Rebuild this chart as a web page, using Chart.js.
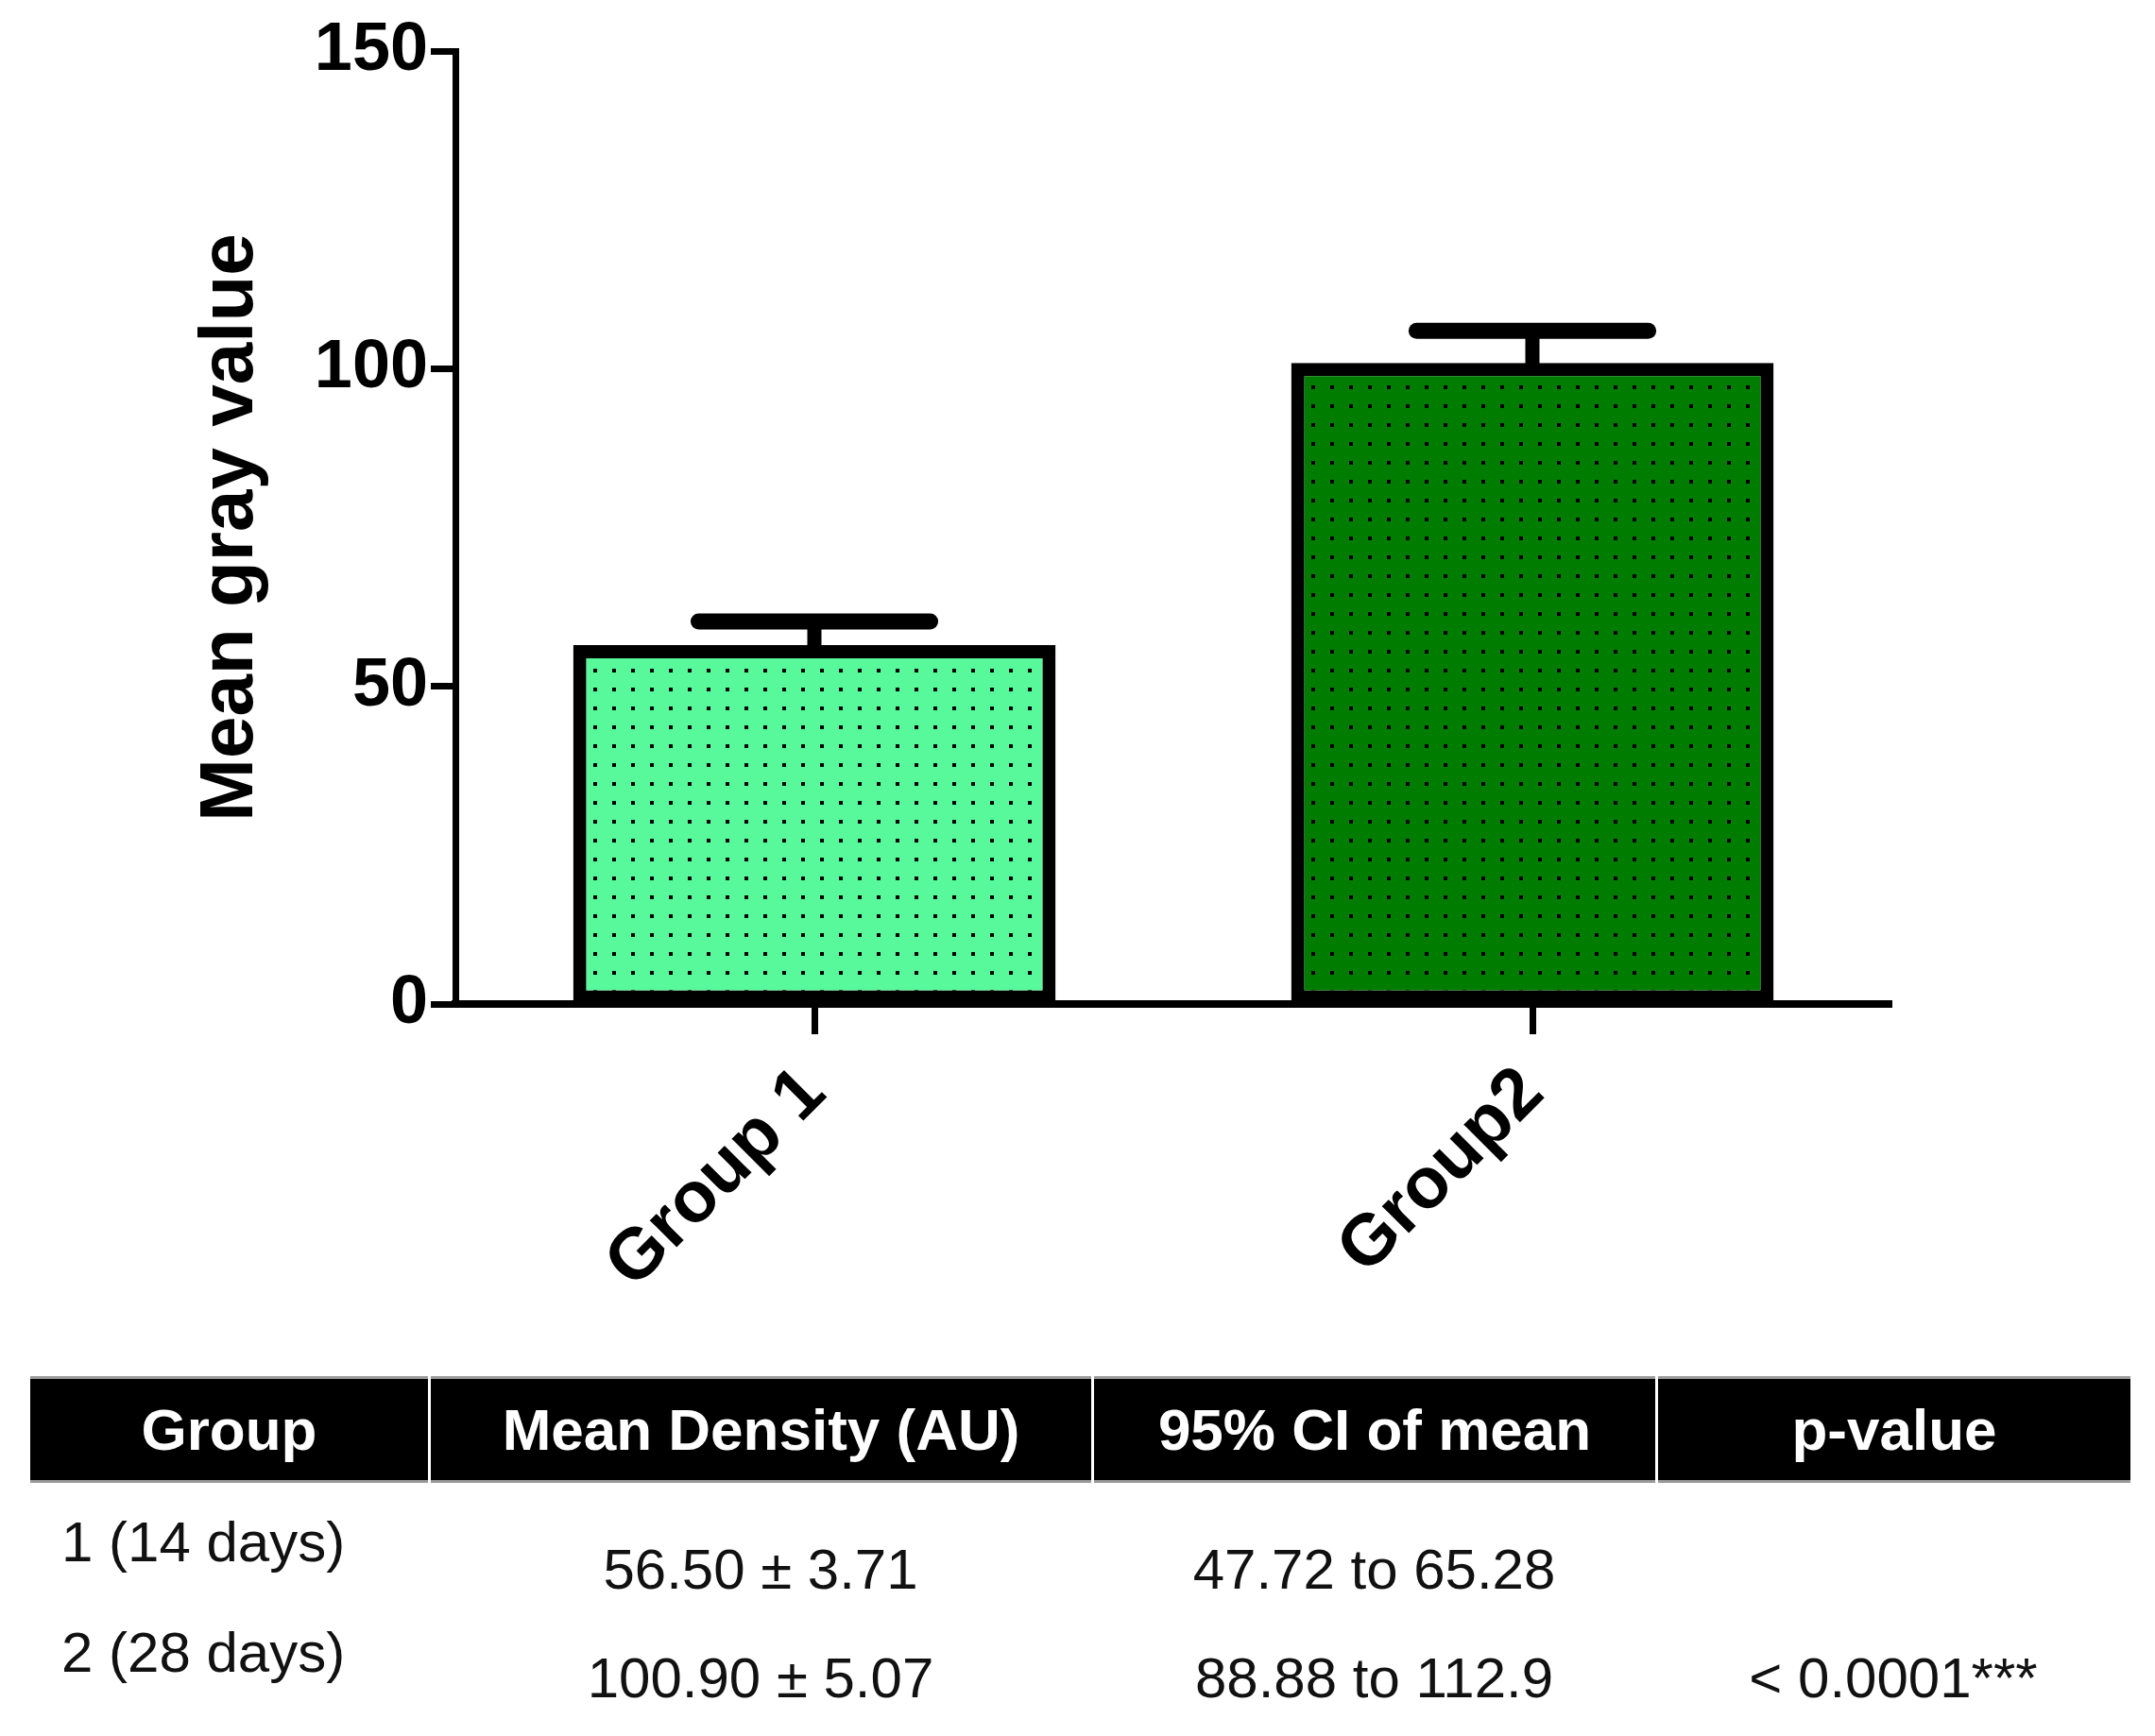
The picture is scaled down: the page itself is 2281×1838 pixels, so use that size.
<!DOCTYPE html>
<html>
<head>
<meta charset="utf-8">
<script src="https://cdn.jsdelivr.net/npm/chart.js@4"></script>
<style>
  body { margin: 0; background: #fff; font-family: "Liberation Sans", Arial, sans-serif; }
  #wrap { position: relative; width: 2281px; height: 1838px; overflow: hidden; }
  canvas { position: absolute; left: 0; top: 0; }
  .cell { position: absolute; white-space: nowrap; line-height: 1; }
  .head { background: #000; color: #fff; font-weight: bold; font-size: 62px;
          display: flex; align-items: center; justify-content: center; }
  .body { color: #111; font-size: 60px; }
</style>
</head>
<body>
<div id="wrap">
  <canvas id="barChart" width="2281" height="1440"></canvas>
  <div id="table"></div>
</div>
<script>
const groups = ["Group 1", "Group2"];
const meanValues = [56.5, 100.9];
const semValues = [3.71, 5.07];
const yTicks = [0, 50, 100, 150];
const barColors = ["#58f99a", "#007c00"];

const tableHeaders = ["Group", "Mean Density (AU)", "95% CI of mean", "p-value"];
const rowLabels = ["1 (14 days)", "2 (28 days)"];
const densityText = ["56.50 ± 3.71", "100.90 ± 5.07"];
const ciText = ["47.72 to 65.28", "88.88 to 112.9"];
const pValueText = ["", "< 0.0001***"];

const canvas = document.getElementById("barChart");
const ctx = canvas.getContext("2d");

// fill colour with a fine grid of black dots
function dotted(fill) {
  const c = document.createElement("canvas");
  c.width = 20;
  c.height = 20;
  const g = c.getContext("2d");
  g.fillStyle = fill;
  g.fillRect(0, 0, 20, 20);
  g.fillStyle = "#000";
  g.fillRect(8, 8, 4, 4);
  return ctx.createPattern(c, "repeat");
}

const errorBars = {
  id: "errorBars",
  afterDatasetsDraw(chart) {
    const c = chart.ctx;
    const y = chart.scales.y;
    const meta = chart.getDatasetMeta(0);
    c.save();
    c.strokeStyle = "#000";
    meta.data.forEach((bar, i) => {
      const top = y.getPixelForValue(meanValues[i] + semValues[i]);
      const half = bar.width * 0.24;
      c.lineWidth = 15;
      c.lineCap = "butt";
      c.beginPath();
      c.moveTo(bar.x, bar.y + 8);
      c.lineTo(bar.x, top);
      c.stroke();
      c.lineWidth = 17;
      c.lineCap = "round";
      c.beginPath();
      c.moveTo(bar.x - half, top);
      c.lineTo(bar.x + half, top);
      c.stroke();
    });
    c.restore();
  }
};

const font = "'Liberation Sans', Arial, sans-serif";

new Chart(canvas, {
  type: "bar",
  data: {
    labels: groups,
    datasets: [{
      data: meanValues,
      backgroundColor: barColors.map(dotted),
      borderColor: "#000",
      borderWidth: 14,
      borderSkipped: false,
      categoryPercentage: 1,
      barPercentage: 0.672,
    }],
  },
  options: {
    responsive: false,
    devicePixelRatio: 1,
    animation: false,
    layout: { padding: { top: 54, right: 279, left: 0, bottom: 0 } },
    plugins: { legend: { display: false }, tooltip: { enabled: false } },
    scales: {
      x: {
        grid: { offset: false, drawOnChartArea: false, tickLength: 32, tickWidth: 7, tickColor: "#000" },
        border: { display: true, color: "#000", width: 8 },
        ticks: { color: "#000", font: { family: font, size: 76, weight: "bold" }, minRotation: 45, maxRotation: 45, padding: 18 },
        afterFit: (s) => { s.height = 1440 - 1063; },
      },
      y: {
        min: 0,
        max: 150,
        afterBuildTicks: (s) => { s.ticks = yTicks.map((v) => ({ value: v })); },
        grid: { drawOnChartArea: false, tickLength: 26, tickWidth: 7, tickColor: "#000" },
        border: { display: true, color: "#000", width: 7 },
        ticks: { color: "#000", font: { family: font, size: 72, weight: "bold" }, padding: 3 },
        title: { display: true, text: "Mean gray value", color: "#000", font: { family: font, size: 80, weight: "bold" }, padding: { top: 197, bottom: 0 } },
        afterFit: (s) => { s.width = 482; },
      },
    },
  },
  plugins: [errorBars],
});

// summary table under the chart
const table = document.getElementById("table");
const colEdges = [32, 454, 1156, 1753, 2255];
function addCell(cls, text, style) {
  const d = document.createElement("div");
  d.className = "cell " + cls;
  d.textContent = text;
  Object.assign(d.style, style);
  table.appendChild(d);
}
tableHeaders.forEach((h, i) => {
  const left = colEdges[i] + (i ? 2 : 0);
  addCell("head", h, {
    left: left + "px", top: "1457px",
    width: (colEdges[i + 1] - left - (i < 3 ? 1 : 0)) + "px", height: "113px",
    borderTop: "3px solid #999", borderBottom: "3px solid #999", boxSizing: "border-box",
  });
});
const labelCenters = [1633, 1750];
const valueCenters = [1662, 1777];
rowLabels.forEach((label, r) => {
  addCell("body", label, { left: "65px", top: (labelCenters[r] - 30) + "px" });
  [densityText[r], ciText[r], pValueText[r]].forEach((t, k) => {
    const c = k + 1;
    addCell("body", t, {
      left: colEdges[c] + "px", width: (colEdges[c + 1] - colEdges[c]) + "px",
      top: (valueCenters[r] - 30) + "px", textAlign: "center",
    });
  });
});
</script>
</body>
</html>
